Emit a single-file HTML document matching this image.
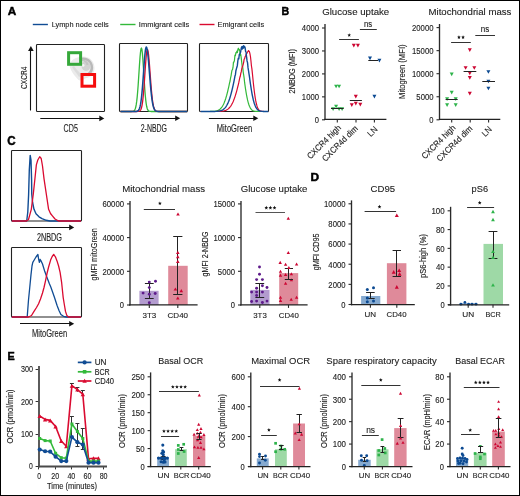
<!DOCTYPE html>
<html><head><meta charset="utf-8"><style>
html,body{margin:0;padding:0;background:#fff;}
svg{display:block;will-change:transform;}
text{font-family:"Liberation Sans", sans-serif;fill:#222;stroke:#222;stroke-width:0.12px;}
</style></head><body>
<svg width="520" height="496" viewBox="0 0 520 496">
<rect x="0.5" y="0.5" width="519" height="495" fill="#fff" stroke="#000" stroke-width="1"/>
<text x="7.8" y="15.3" font-size="11.0" font-weight="bold" textLength="8.5" lengthAdjust="spacingAndGlyphs" style="fill:#000;stroke:#000;stroke-width:0.45px">A</text>
<text x="281.5" y="15.0" font-size="10.8" font-weight="bold" textLength="7.7" lengthAdjust="spacingAndGlyphs" style="fill:#000;stroke:#000;stroke-width:0.45px">B</text>
<text x="7.3" y="145.0" font-size="12.2" font-weight="bold" textLength="8.4" lengthAdjust="spacingAndGlyphs" style="fill:#000;stroke:#000;stroke-width:0.45px">C</text>
<text x="310.5" y="181.0" font-size="10.8" font-weight="bold" textLength="8.6" lengthAdjust="spacingAndGlyphs" style="fill:#000;stroke:#000;stroke-width:0.45px">D</text>
<text x="7.6" y="359.8" font-size="10.8" font-weight="bold" textLength="7.2" lengthAdjust="spacingAndGlyphs" style="fill:#000;stroke:#000;stroke-width:0.45px">E</text>
<line x1="32.80" y1="24.50" x2="47.90" y2="24.50" stroke="#104c94" stroke-width="1.4" />
<text x="51.70" y="27.00" font-size="7.8" textLength="57.10" lengthAdjust="spacingAndGlyphs">Lymph node cells</text>
<line x1="120.20" y1="24.50" x2="135.50" y2="24.50" stroke="#33b93a" stroke-width="1.4" />
<text x="138.80" y="27.00" font-size="7.8" textLength="50.50" lengthAdjust="spacingAndGlyphs">Immigrant cells</text>
<line x1="199.50" y1="24.50" x2="214.50" y2="24.50" stroke="#da0a30" stroke-width="1.4" />
<text x="217.50" y="27.00" font-size="7.8" textLength="46.70" lengthAdjust="spacingAndGlyphs">Emigrant cells</text>
<rect x="36.5" y="44.5" width="68" height="67" fill="none" stroke="#222" stroke-width="1.1" rx="0.8"/>
<defs><filter id="bl" x="-20%" y="-20%" width="140%" height="140%"><feGaussianBlur stdDeviation="0.7"/></filter></defs>
<g filter="url(#bl)"><path d="M69.5,66 C70,60 76,56.5 84,56.5 C91,57 95,63 94.5,69 C94,75 89,77.5 85,78.5 C82.5,80.5 80,81 78.5,80 C75,76.5 71,71.5 69.5,66Z" fill="#ebebeb"/><path d="M72,67 C74,70 77,74 79,77 L82,75 C79,72 76,69 74,66Z" fill="#dcdcdc"/><path d="M80,59.5 C85,57.5 90,60 91.5,65 C92.5,69 91,72.5 88,74.5" fill="none" stroke="#b9b9b9" stroke-width="2.6"/><ellipse cx="86" cy="66" rx="4.5" ry="5" fill="#d2d2d2"/><path d="M81,60 C84,60 87,62 87.5,65" fill="none" stroke="#c4c4c4" stroke-width="2.2"/><circle cx="83.2" cy="65.4" r="1.3" fill="#f6f6f6"/></g>
<rect x="68.6" y="52.7" width="12.0" height="11.6" fill="none" stroke="#35a83a" stroke-width="3.0"/>
<rect x="82.0" y="74.5" width="12.6" height="11.7" fill="none" stroke="#f50d0d" stroke-width="3.0"/>
<line x1="30.50" y1="110.50" x2="30.50" y2="50.00" stroke="#111" stroke-width="1.1" />
<path d="M30.90,46.00L28.10,51.00L33.70,51.00Z" fill="#111"/>
<line x1="40.30" y1="118.50" x2="100.30" y2="118.50" stroke="#111" stroke-width="1.1" />
<path d="M104.30,118.40L99.30,115.60L99.30,121.20Z" fill="#111"/>
<text x="26.70" y="88.90" font-size="9.4" textLength="22.20" lengthAdjust="spacingAndGlyphs" transform="rotate(-90 26.70 88.90)">CXCR4</text>
<text x="63.60" y="131.80" font-size="10.0" textLength="14.30" lengthAdjust="spacingAndGlyphs">CD5</text>
<rect x="119.5" y="43.5" width="68" height="68" fill="none" stroke="#222" stroke-width="1.1" rx="0.8"/>
<polyline points="120.50,111.50 120.98,111.50 121.45,111.50 121.93,111.50 122.41,111.50 122.88,111.50 123.36,111.50 123.83,111.50 124.31,111.50 124.79,111.50 125.26,111.50 125.74,111.50 126.22,111.50 126.69,111.50 127.17,111.50 127.65,111.50 128.12,111.50 128.60,111.50 129.08,111.50 129.55,111.50 130.03,111.50 130.50,111.50 130.98,111.49 131.46,111.48 131.93,111.46 132.41,111.42 132.89,111.35 133.36,111.21 133.84,110.96 134.32,110.53 134.79,109.83 135.27,108.73 135.75,107.07 136.22,104.69 136.70,101.43 137.18,97.14 137.65,91.80 138.13,85.47 138.60,78.39 139.08,70.93 139.56,63.65 140.03,57.15 140.51,52.05 140.99,48.90 141.46,48.02 141.94,49.65 142.42,53.66 142.89,59.59 143.37,66.79 143.84,74.54 144.32,82.18 144.80,89.17 145.27,95.19 145.75,100.06 146.23,103.80 146.70,106.53 147.18,108.42 147.66,109.66 148.13,110.45 148.61,110.93 149.09,111.20 149.56,111.35 150.04,111.43 150.51,111.47 150.99,111.48 151.47,111.49 151.94,111.50 152.42,111.50 152.90,111.50 153.37,111.50 153.85,111.50 154.33,111.50 154.80,111.50 155.28,111.50 155.76,111.50 156.23,111.50 156.71,111.50 157.19,111.50 157.66,111.50 158.14,111.50 158.61,111.50 159.09,111.50 159.57,111.50 160.04,111.50 160.52,111.50 161.00,111.50 161.47,111.50 161.95,111.50 162.43,111.50 162.90,111.50 163.38,111.50 163.85,111.50 164.33,111.50 164.81,111.50 165.28,111.50 165.76,111.50 166.24,111.50 166.71,111.50 167.19,111.50 167.67,111.50 168.14,111.50 168.62,111.50 169.10,111.50 169.57,111.50 170.05,111.50 170.52,111.50 171.00,111.50 171.48,111.50 171.95,111.50 172.43,111.50 172.91,111.50 173.38,111.50 173.86,111.50 174.34,111.50 174.81,111.50 175.29,111.50 175.77,111.50 176.24,111.50 176.72,111.50 177.19,111.50 177.67,111.50 178.15,111.50 178.62,111.50 179.10,111.50 179.58,111.50 180.05,111.50 180.53,111.50 181.01,111.50 181.48,111.50 181.96,111.50 182.44,111.50 182.91,111.50 183.39,111.50 183.86,111.50 184.34,111.50 184.82,111.50 185.29,111.50 185.77,111.50 186.25,111.50 186.72,111.50 187.20,111.50" fill="none" stroke="#33b93a" stroke-width="1.3" stroke-linejoin="round" />
<polyline points="120.50,111.50 120.98,111.50 121.45,111.50 121.93,111.50 122.41,111.50 122.88,111.50 123.36,111.50 123.83,111.50 124.31,111.50 124.79,111.50 125.26,111.50 125.74,111.50 126.22,111.50 126.69,111.50 127.17,111.50 127.65,111.50 128.12,111.50 128.60,111.50 129.08,111.50 129.55,111.50 130.03,111.50 130.50,111.50 130.98,111.50 131.46,111.50 131.93,111.50 132.41,111.50 132.89,111.50 133.36,111.50 133.84,111.50 134.32,111.50 134.79,111.50 135.27,111.50 135.75,111.50 136.22,111.50 136.70,111.49 137.18,111.49 137.65,111.47 138.13,111.44 138.60,111.37 139.08,111.26 139.56,111.05 140.03,110.69 140.51,110.11 140.99,109.19 141.46,107.80 141.94,105.79 142.42,103.00 142.89,99.30 143.37,94.61 143.84,88.94 144.32,82.45 144.80,75.43 145.27,68.31 145.75,61.62 146.23,55.96 146.70,51.86 147.18,49.74 147.66,49.77 148.13,51.66 148.61,55.21 149.09,60.12 149.56,65.98 150.04,72.37 150.51,78.86 150.99,85.07 151.47,90.74 151.94,95.67 152.42,99.79 152.90,103.09 153.37,105.64 153.85,107.54 154.33,108.90 154.80,109.84 155.28,110.48 155.76,110.89 156.23,111.14 156.71,111.30 157.19,111.39 157.66,111.44 158.14,111.47 158.61,111.48 159.09,111.49 159.57,111.50 160.04,111.50 160.52,111.50 161.00,111.50 161.47,111.50 161.95,111.50 162.43,111.50 162.90,111.50 163.38,111.50 163.85,111.50 164.33,111.50 164.81,111.50 165.28,111.50 165.76,111.50 166.24,111.50 166.71,111.50 167.19,111.50 167.67,111.50 168.14,111.50 168.62,111.50 169.10,111.50 169.57,111.50 170.05,111.50 170.52,111.50 171.00,111.50 171.48,111.50 171.95,111.50 172.43,111.50 172.91,111.50 173.38,111.50 173.86,111.50 174.34,111.50 174.81,111.50 175.29,111.50 175.77,111.50 176.24,111.50 176.72,111.50 177.19,111.50 177.67,111.50 178.15,111.50 178.62,111.50 179.10,111.50 179.58,111.50 180.05,111.50 180.53,111.50 181.01,111.50 181.48,111.50 181.96,111.50 182.44,111.50 182.91,111.50 183.39,111.50 183.86,111.50 184.34,111.50 184.82,111.50 185.29,111.50 185.77,111.50 186.25,111.50 186.72,111.50 187.20,111.50" fill="none" stroke="#da0a30" stroke-width="1.3" stroke-linejoin="round" />
<polyline points="120.50,111.50 120.98,111.50 121.45,111.50 121.93,111.50 122.41,111.50 122.88,111.50 123.36,111.50 123.83,111.50 124.31,111.50 124.79,111.50 125.26,111.50 125.74,111.50 126.22,111.50 126.69,111.50 127.17,111.50 127.65,111.50 128.12,111.50 128.60,111.50 129.08,111.50 129.55,111.50 130.03,111.50 130.50,111.50 130.98,111.50 131.46,111.50 131.93,111.50 132.41,111.50 132.89,111.50 133.36,111.50 133.84,111.50 134.32,111.50 134.79,111.49 135.27,111.48 135.75,111.46 136.22,111.42 136.70,111.35 137.18,111.24 137.65,111.04 138.13,110.72 138.60,110.21 139.08,109.44 139.56,108.30 140.03,106.68 140.51,104.46 140.99,101.51 141.46,97.75 141.94,93.13 142.42,87.68 142.89,81.52 143.37,74.90 143.84,68.13 144.32,61.63 144.80,55.85 145.27,51.24 145.75,48.18 146.23,46.92 146.70,47.45 147.18,49.45 147.66,52.80 148.13,57.26 148.61,62.55 149.09,68.36 149.56,74.37 150.04,80.28 150.51,85.87 150.99,90.95 151.47,95.40 151.94,99.19 152.42,102.30 152.90,104.79 153.37,106.72 153.85,108.17 154.33,109.24 154.80,110.00 155.28,110.53 155.76,110.88 156.23,111.12 156.71,111.27 157.19,111.36 157.66,111.42 158.14,111.46 158.61,111.48 159.09,111.49 159.57,111.49 160.04,111.50 160.52,111.50 161.00,111.50 161.47,111.50 161.95,111.50 162.43,111.50 162.90,111.50 163.38,111.50 163.85,111.50 164.33,111.50 164.81,111.50 165.28,111.50 165.76,111.50 166.24,111.50 166.71,111.50 167.19,111.50 167.67,111.50 168.14,111.50 168.62,111.50 169.10,111.50 169.57,111.50 170.05,111.50 170.52,111.50 171.00,111.50 171.48,111.50 171.95,111.50 172.43,111.50 172.91,111.50 173.38,111.50 173.86,111.50 174.34,111.50 174.81,111.50 175.29,111.50 175.77,111.50 176.24,111.50 176.72,111.50 177.19,111.50 177.67,111.50 178.15,111.50 178.62,111.50 179.10,111.50 179.58,111.50 180.05,111.50 180.53,111.50 181.01,111.50 181.48,111.50 181.96,111.50 182.44,111.50 182.91,111.50 183.39,111.50 183.86,111.50 184.34,111.50 184.82,111.50 185.29,111.50 185.77,111.50 186.25,111.50 186.72,111.50 187.20,111.50" fill="none" stroke="#104c94" stroke-width="1.5" stroke-linejoin="round" />
<line x1="130.00" y1="118.50" x2="176.20" y2="118.50" stroke="#111" stroke-width="1.1" />
<path d="M180.20,118.30L175.20,115.50L175.20,121.10Z" fill="#111"/>
<text x="140.70" y="131.80" font-size="10.0" textLength="26.30" lengthAdjust="spacingAndGlyphs">2-NBDG</text>
<rect x="199.5" y="43.5" width="69" height="68" fill="none" stroke="#222" stroke-width="1.1" rx="0.8"/>
<polyline points="200.50,111.50 200.99,111.50 201.47,111.50 201.96,111.50 202.44,111.50 202.93,111.50 203.41,111.50 203.90,111.50 204.38,111.50 204.87,111.50 205.35,111.50 205.84,111.50 206.32,111.50 206.81,111.50 207.29,111.49 207.78,111.49 208.26,111.49 208.75,111.49 209.23,111.48 209.72,111.48 210.20,111.47 210.69,111.46 211.17,111.45 211.66,111.43 212.14,111.41 212.62,111.39 213.11,111.36 213.59,111.33 214.08,111.28 214.56,111.23 215.05,111.16 215.53,111.08 216.02,110.99 216.50,110.87 216.99,110.73 217.47,110.57 217.96,110.37 218.44,110.14 218.93,109.87 219.41,109.55 219.90,109.19 220.38,108.77 220.87,108.28 221.35,107.72 221.84,107.09 222.32,106.38 222.81,105.57 223.29,104.67 223.78,103.67 224.26,102.56 224.75,101.33 225.23,99.99 225.72,98.53 226.20,96.95 226.69,95.25 227.17,93.43 227.66,91.49 228.14,89.45 228.63,87.30 229.11,85.06 229.60,82.74 230.08,81.01 230.57,77.80 231.06,75.82 231.54,72.65 232.02,70.09 232.51,69.58 233.00,67.48 233.48,62.11 233.96,62.19 234.45,60.29 234.94,55.13 235.42,55.70 235.90,52.51 236.39,52.87 236.88,51.03 237.36,52.58 237.84,49.67 238.33,48.23 238.81,49.95 239.30,49.45 239.78,50.95 240.27,55.49 240.75,54.52 241.24,57.92 241.72,62.12 242.21,66.38 242.69,66.86 243.18,71.85 243.66,74.82 244.15,78.14 244.63,82.69 245.12,86.12 245.60,89.36 246.09,92.38 246.57,95.14 247.06,97.65 247.54,99.88 248.03,101.85 248.51,103.56 249.00,105.03 249.48,106.28 249.97,107.33 250.45,108.21 250.94,108.92 251.42,109.50 251.91,109.96 252.39,110.33 252.88,110.62 253.36,110.84 253.85,111.02 254.33,111.15 254.82,111.24 255.30,111.32 255.79,111.37 256.27,111.41 256.76,111.44 257.25,111.46 257.73,111.47 258.21,111.48 258.70,111.49 259.19,111.49 259.67,111.49 260.15,111.50 260.64,111.50 261.12,111.50 261.61,111.50 262.09,111.50 262.58,111.50 263.06,111.50 263.55,111.50 264.03,111.50 264.52,111.50 265.00,111.50 265.49,111.50 265.97,111.50 266.46,111.50 266.94,111.50 267.43,111.50 267.91,111.50 268.40,111.50" fill="none" stroke="#33b93a" stroke-width="1.2" stroke-linejoin="round" />
<polyline points="200.50,111.50 200.99,111.50 201.47,111.50 201.96,111.50 202.44,111.50 202.93,111.50 203.41,111.50 203.90,111.50 204.38,111.50 204.87,111.50 205.35,111.50 205.84,111.50 206.32,111.50 206.81,111.50 207.29,111.50 207.78,111.50 208.26,111.50 208.75,111.50 209.23,111.50 209.72,111.50 210.20,111.50 210.69,111.50 211.17,111.50 211.66,111.50 212.14,111.50 212.62,111.50 213.11,111.50 213.59,111.49 214.08,111.49 214.56,111.49 215.05,111.49 215.53,111.48 216.02,111.48 216.50,111.47 216.99,111.47 217.47,111.46 217.96,111.45 218.44,111.43 218.93,111.42 219.41,111.40 219.90,111.37 220.38,111.35 220.87,111.31 221.35,111.27 221.84,111.22 222.32,111.16 222.81,111.09 223.29,111.01 223.78,110.91 224.26,110.79 224.75,110.66 225.23,110.50 225.72,110.32 226.20,110.11 226.69,109.86 227.17,109.59 227.66,109.27 228.14,108.91 228.63,108.50 229.11,108.04 229.60,107.52 230.08,106.94 230.57,106.29 231.06,105.58 231.54,104.78 232.02,103.91 232.51,102.96 233.00,101.91 233.48,100.78 233.96,99.56 234.45,98.25 234.94,96.84 235.42,95.33 235.90,93.74 236.39,92.06 236.88,90.29 237.36,88.44 237.84,86.52 238.33,84.53 238.81,82.49 239.30,80.13 239.78,77.71 240.27,76.28 240.75,73.53 241.24,71.92 241.72,68.99 242.21,66.97 242.69,66.35 243.18,64.36 243.66,62.37 244.15,59.10 244.63,58.57 245.12,56.68 245.60,56.07 246.09,54.45 246.57,53.75 247.06,53.04 247.54,51.89 248.03,51.50 248.51,50.55 249.00,51.25 249.48,51.76 249.97,53.95 250.45,56.51 250.94,60.72 251.42,65.73 251.91,68.90 252.39,73.41 252.88,78.21 253.36,83.26 253.85,87.55 254.33,91.52 254.82,95.10 255.30,98.25 255.79,100.97 256.27,103.27 256.76,105.17 257.25,106.71 257.73,107.94 258.21,108.89 258.70,109.62 259.19,110.17 259.67,110.57 260.15,110.86 260.64,111.07 261.12,111.21 261.61,111.31 262.09,111.38 262.58,111.42 263.06,111.45 263.55,111.47 264.03,111.48 264.52,111.49 265.00,111.49 265.49,111.50 265.97,111.50 266.46,111.50 266.94,111.50 267.43,111.50 267.91,111.50 268.40,111.50" fill="none" stroke="#da0a30" stroke-width="1.2" stroke-linejoin="round" />
<polyline points="200.50,111.50 200.99,111.50 201.47,111.50 201.96,111.50 202.44,111.50 202.93,111.50 203.41,111.50 203.90,111.50 204.38,111.50 204.87,111.50 205.35,111.50 205.84,111.50 206.32,111.50 206.81,111.50 207.29,111.50 207.78,111.50 208.26,111.50 208.75,111.50 209.23,111.50 209.72,111.50 210.20,111.49 210.69,111.49 211.17,111.49 211.66,111.49 212.14,111.48 212.62,111.48 213.11,111.47 213.59,111.47 214.08,111.46 214.56,111.44 215.05,111.43 215.53,111.41 216.02,111.39 216.50,111.36 216.99,111.33 217.47,111.29 217.96,111.23 218.44,111.17 218.93,111.10 219.41,111.01 219.90,110.91 220.38,110.78 220.87,110.63 221.35,110.46 221.84,110.26 222.32,110.02 222.81,109.74 223.29,109.42 223.78,109.05 224.26,108.63 224.75,108.15 225.23,107.60 225.72,106.98 226.20,106.28 226.69,105.50 227.17,104.63 227.66,103.67 228.14,102.60 228.63,101.43 229.11,100.15 229.60,98.76 230.08,97.25 230.57,95.63 231.06,93.89 231.54,92.05 232.02,90.09 232.51,88.03 233.00,85.87 233.48,83.63 233.96,81.30 234.45,78.79 234.94,76.04 235.42,74.67 235.90,70.74 236.39,68.87 236.88,67.19 237.36,65.44 237.84,60.81 238.33,58.09 238.81,58.82 239.30,54.47 239.78,53.95 240.27,53.22 240.75,51.26 241.24,48.24 241.72,46.79 242.21,49.16 242.69,46.41 243.18,48.33 243.66,45.68 244.15,47.64 244.63,46.52 245.12,47.68 245.60,51.41 246.09,52.09 246.57,57.20 247.06,60.94 247.54,62.63 248.03,67.66 248.51,70.71 249.00,73.77 249.48,76.92 249.97,80.65 250.45,84.02 250.94,87.23 251.42,90.25 251.91,93.04 252.39,95.60 252.88,97.92 253.36,100.00 253.85,101.84 254.33,103.46 254.82,104.86 255.30,106.06 255.79,107.08 256.27,107.94 256.76,108.66 257.25,109.25 257.73,109.73 258.21,110.12 258.70,110.44 259.19,110.69 259.67,110.88 260.15,111.03 260.64,111.15 261.12,111.24 261.61,111.31 262.09,111.36 262.58,111.40 263.06,111.43 263.55,111.45 264.03,111.46 264.52,111.48 265.00,111.48 265.49,111.49 265.97,111.49 266.46,111.49 266.94,111.50 267.43,111.50 267.91,111.50 268.40,111.50" fill="none" stroke="#104c94" stroke-width="1.4" stroke-linejoin="round" />
<line x1="208.90" y1="118.50" x2="254.30" y2="118.50" stroke="#111" stroke-width="1.1" />
<path d="M258.30,118.30L253.30,115.50L253.30,121.10Z" fill="#111"/>
<text x="216.80" y="131.80" font-size="10.0" textLength="35.30" lengthAdjust="spacingAndGlyphs">MitoGreen</text>
<text x="322.20" y="15.10" font-size="9.9" textLength="67.00" lengthAdjust="spacingAndGlyphs">Glucose uptake</text>
<line x1="325.00" y1="24.00" x2="325.00" y2="120.00" stroke="#2a2a2a" stroke-width="1.35" />
<line x1="322.00" y1="119.80" x2="325.00" y2="119.80" stroke="#2a2a2a" stroke-width="1.1" />
<text x="319.00" y="123.13" font-size="8.3" text-anchor="end" textLength="4.20" lengthAdjust="spacingAndGlyphs">0</text>
<line x1="322.00" y1="96.85" x2="325.00" y2="96.85" stroke="#2a2a2a" stroke-width="1.1" />
<text x="319.00" y="100.18" font-size="8.3" text-anchor="end" textLength="17.14" lengthAdjust="spacingAndGlyphs">1000</text>
<line x1="322.00" y1="73.90" x2="325.00" y2="73.90" stroke="#2a2a2a" stroke-width="1.1" />
<text x="319.00" y="77.23" font-size="8.3" text-anchor="end" textLength="17.14" lengthAdjust="spacingAndGlyphs">2000</text>
<line x1="322.00" y1="50.95" x2="325.00" y2="50.95" stroke="#2a2a2a" stroke-width="1.1" />
<text x="319.00" y="54.28" font-size="8.3" text-anchor="end" textLength="17.14" lengthAdjust="spacingAndGlyphs">3000</text>
<line x1="322.00" y1="28.00" x2="325.00" y2="28.00" stroke="#2a2a2a" stroke-width="1.1" />
<text x="319.00" y="31.33" font-size="8.3" text-anchor="end" textLength="17.14" lengthAdjust="spacingAndGlyphs">4000</text>
<line x1="324.20" y1="119.40" x2="386.40" y2="119.40" stroke="#222" stroke-width="1.3" />
<line x1="337.30" y1="119.40" x2="337.30" y2="122.40" stroke="#2a2a2a" stroke-width="1.1" />
<line x1="356.00" y1="119.40" x2="356.00" y2="122.40" stroke="#2a2a2a" stroke-width="1.1" />
<line x1="374.40" y1="119.40" x2="374.40" y2="122.40" stroke="#2a2a2a" stroke-width="1.1" />
<text x="294.70" y="93.40" font-size="8.6" textLength="44.40" lengthAdjust="spacingAndGlyphs" transform="rotate(-90 294.70 93.40)">2NBDG (MFI)</text>
<path d="M334.10,84.66H338.10L336.10,88.34Z" fill="#2db34a"/>
<path d="M337.10,84.66H341.10L339.10,88.34Z" fill="#2db34a"/>
<path d="M331.10,107.26H335.10L333.10,110.94Z" fill="#2db34a"/>
<path d="M334.10,104.86H338.10L336.10,108.54Z" fill="#2db34a"/>
<path d="M337.10,107.26H341.10L339.10,110.94Z" fill="#2db34a"/>
<path d="M340.10,107.26H344.10L342.10,110.94Z" fill="#2db34a"/>
<line x1="331.00" y1="108.50" x2="343.70" y2="108.50" stroke="#222" stroke-width="1.0" />
<path d="M351.80,43.76H355.80L353.80,47.44Z" fill="#cc0632"/>
<path d="M355.90,43.76H359.90L357.90,47.44Z" fill="#cc0632"/>
<path d="M353.80,94.76H357.80L355.80,98.44Z" fill="#cc0632"/>
<path d="M349.80,103.26H353.80L351.80,106.94Z" fill="#cc0632"/>
<path d="M353.80,101.86H357.80L355.80,105.54Z" fill="#cc0632"/>
<path d="M358.30,102.86H362.30L360.30,106.54Z" fill="#cc0632"/>
<line x1="349.80" y1="100.50" x2="361.90" y2="100.50" stroke="#222" stroke-width="1.0" />
<path d="M368.00,56.46H372.00L370.00,60.14Z" fill="#0c4a92"/>
<path d="M377.40,58.86H381.40L379.40,62.54Z" fill="#0c4a92"/>
<path d="M372.40,94.76H376.40L374.40,98.44Z" fill="#0c4a92"/>
<line x1="368.30" y1="60.50" x2="378.00" y2="60.50" stroke="#222" stroke-width="1.0" />
<line x1="339.10" y1="39.50" x2="358.90" y2="39.50" stroke="#333" stroke-width="1.0" />
<polygon points="349.20,33.15 349.72,34.39 351.05,34.50 350.03,35.37 350.35,36.68 349.20,35.98 348.05,36.68 348.37,35.37 347.35,34.50 348.68,34.39" fill="#111"/>
<line x1="359.90" y1="29.50" x2="376.80" y2="29.50" stroke="#333" stroke-width="1.0" />
<text x="368.00" y="27.20" font-size="8.4" text-anchor="middle" textLength="8.20" lengthAdjust="spacingAndGlyphs">ns</text>
<text x="341.60" y="128.40" font-size="8.6" text-anchor="end" textLength="44.00" lengthAdjust="spacingAndGlyphs" transform="rotate(-45 341.60 128.40)">CXCR4 high</text>
<text x="358.40" y="129.00" font-size="8.6" text-anchor="end" textLength="46.60" lengthAdjust="spacingAndGlyphs" transform="rotate(-45 358.40 129.00)">CXCR4d dim</text>
<text x="378.20" y="129.80" font-size="8.6" text-anchor="end" textLength="10.40" lengthAdjust="spacingAndGlyphs" transform="rotate(-45 378.20 129.80)">LN</text>
<text x="428.50" y="15.00" font-size="9.9" textLength="82.90" lengthAdjust="spacingAndGlyphs">Mitochondrial mass</text>
<line x1="439.50" y1="24.00" x2="439.50" y2="120.00" stroke="#2a2a2a" stroke-width="1.35" />
<line x1="436.50" y1="119.80" x2="439.50" y2="119.80" stroke="#2a2a2a" stroke-width="1.1" />
<text x="433.50" y="123.13" font-size="8.3" text-anchor="end" textLength="4.20" lengthAdjust="spacingAndGlyphs">0</text>
<line x1="436.50" y1="96.75" x2="439.50" y2="96.75" stroke="#2a2a2a" stroke-width="1.1" />
<text x="433.50" y="100.08" font-size="8.3" text-anchor="end" textLength="17.14" lengthAdjust="spacingAndGlyphs">5000</text>
<line x1="436.50" y1="73.70" x2="439.50" y2="73.70" stroke="#2a2a2a" stroke-width="1.1" />
<text x="433.50" y="77.03" font-size="8.3" text-anchor="end" textLength="21.50" lengthAdjust="spacingAndGlyphs">10000</text>
<line x1="436.50" y1="50.65" x2="439.50" y2="50.65" stroke="#2a2a2a" stroke-width="1.1" />
<text x="433.50" y="53.98" font-size="8.3" text-anchor="end" textLength="21.50" lengthAdjust="spacingAndGlyphs">15000</text>
<line x1="436.50" y1="27.60" x2="439.50" y2="27.60" stroke="#2a2a2a" stroke-width="1.1" />
<text x="433.50" y="30.93" font-size="8.3" text-anchor="end" textLength="21.50" lengthAdjust="spacingAndGlyphs">20000</text>
<line x1="439.00" y1="119.40" x2="500.30" y2="119.40" stroke="#222" stroke-width="1.3" />
<line x1="451.70" y1="119.40" x2="451.70" y2="122.40" stroke="#2a2a2a" stroke-width="1.1" />
<line x1="470.20" y1="119.40" x2="470.20" y2="122.40" stroke="#2a2a2a" stroke-width="1.1" />
<line x1="488.60" y1="119.40" x2="488.60" y2="122.40" stroke="#2a2a2a" stroke-width="1.1" />
<text x="405.00" y="98.90" font-size="8.6" textLength="54.50" lengthAdjust="spacingAndGlyphs" transform="rotate(-90 405.00 98.90)">Mitogreen (MFI)</text>
<path d="M449.70,72.56H453.70L451.70,76.24Z" fill="#2db34a"/>
<path d="M449.70,90.76H453.70L451.70,94.44Z" fill="#2db34a"/>
<path d="M445.10,97.36H449.10L447.10,101.04Z" fill="#2db34a"/>
<path d="M453.70,97.36H457.70L455.70,101.04Z" fill="#2db34a"/>
<path d="M445.10,103.26H449.10L447.10,106.94Z" fill="#2db34a"/>
<path d="M453.70,103.26H457.70L455.70,106.94Z" fill="#2db34a"/>
<line x1="445.60" y1="99.50" x2="457.70" y2="99.50" stroke="#222" stroke-width="1.0" />
<path d="M467.80,48.36H471.80L469.80,52.04Z" fill="#cc0632"/>
<path d="M463.60,66.16H467.60L465.60,69.84Z" fill="#cc0632"/>
<path d="M472.30,66.16H476.30L474.30,69.84Z" fill="#cc0632"/>
<path d="M467.80,71.56H471.80L469.80,75.24Z" fill="#cc0632"/>
<path d="M467.80,75.96H471.80L469.80,79.64Z" fill="#cc0632"/>
<path d="M467.80,91.76H471.80L469.80,95.44Z" fill="#cc0632"/>
<line x1="463.60" y1="71.50" x2="476.30" y2="71.50" stroke="#222" stroke-width="1.0" />
<path d="M486.40,70.16H490.40L488.40,73.84Z" fill="#0c4a92"/>
<path d="M486.40,79.66H490.40L488.40,83.34Z" fill="#0c4a92"/>
<path d="M486.40,86.66H490.40L488.40,90.34Z" fill="#0c4a92"/>
<line x1="482.30" y1="81.50" x2="495.00" y2="81.50" stroke="#222" stroke-width="1.0" />
<line x1="451.10" y1="42.50" x2="470.80" y2="42.50" stroke="#333" stroke-width="1.0" />
<polygon points="458.95,35.35 459.47,36.59 460.80,36.70 459.78,37.57 460.10,38.88 458.95,38.18 457.80,38.88 458.12,37.57 457.10,36.70 458.43,36.59" fill="#111"/>
<polygon points="463.05,35.35 463.57,36.59 464.90,36.70 463.88,37.57 464.20,38.88 463.05,38.18 461.90,38.88 462.22,37.57 461.20,36.70 462.53,36.59" fill="#111"/>
<line x1="475.30" y1="35.50" x2="495.00" y2="35.50" stroke="#333" stroke-width="1.0" />
<text x="485.10" y="32.20" font-size="8.4" text-anchor="middle" textLength="8.50" lengthAdjust="spacingAndGlyphs">ns</text>
<text x="456.00" y="128.40" font-size="8.6" text-anchor="end" textLength="44.00" lengthAdjust="spacingAndGlyphs" transform="rotate(-45 456.00 128.40)">CXCR4 high</text>
<text x="473.00" y="129.00" font-size="8.6" text-anchor="end" textLength="46.60" lengthAdjust="spacingAndGlyphs" transform="rotate(-45 473.00 129.00)">CXCR4d dim</text>
<text x="492.50" y="129.80" font-size="8.6" text-anchor="end" textLength="10.40" lengthAdjust="spacingAndGlyphs" transform="rotate(-45 492.50 129.80)">LN</text>
<rect x="11.5" y="150.5" width="70" height="70.5" fill="none" stroke="#222" stroke-width="1.1" rx="0.8"/>
<polyline points="11.80,221.00 26.70,221.00 27.80,212.00 28.60,195.00 29.30,170.00 30.20,155.40 31.00,160.00 31.60,180.00 31.75,194.00 32.60,202.50 34.00,209.30 36.00,213.80 39.00,216.80 42.00,218.60 46.30,220.30 50.00,221.00 81.00,221.00" fill="none" stroke="#104c94" stroke-width="1.4" stroke-linejoin="round" />
<polyline points="11.80,221.00 26.40,221.00 28.50,219.50 31.30,209.30 33.30,194.00 35.00,178.00 36.35,164.90 37.80,160.00 39.70,156.70 41.20,158.50 42.50,166.00 44.00,178.60 46.30,194.00 48.60,209.30 50.50,213.50 52.40,215.80 55.00,219.00 58.60,221.00 81.00,221.00" fill="none" stroke="#da0a30" stroke-width="1.3" stroke-linejoin="round" />
<line x1="20.00" y1="227.50" x2="70.20" y2="227.50" stroke="#111" stroke-width="1.1" />
<path d="M74.20,227.40L69.20,224.60L69.20,230.20Z" fill="#111"/>
<text x="36.90" y="240.70" font-size="10.0" textLength="25.10" lengthAdjust="spacingAndGlyphs">2NBDG</text>
<rect x="11.5" y="247.5" width="70" height="69.5" fill="none" stroke="#222" stroke-width="1.1" rx="0.8"/>
<polyline points="11.80,317.00 27.20,317.00 28.50,300.00 29.50,290.00 31.00,274.60 32.00,266.00 32.80,262.40 34.50,259.50 36.00,257.00 37.90,254.40 38.60,259.00 39.40,262.40 40.20,259.50 41.00,260.90 42.50,264.00 44.80,271.60 47.00,277.50 49.40,283.80 50.80,287.00 52.40,291.50 54.50,297.50 57.00,305.30 59.00,310.50 60.90,314.50 63.50,316.30 66.20,317.00 81.00,317.00" fill="none" stroke="#104c94" stroke-width="1.3" stroke-linejoin="round" />
<polyline points="11.80,317.00 28.70,317.00 31.50,315.50 34.00,311.40 36.50,307.50 38.60,303.80 40.50,299.00 42.50,293.00 44.00,287.50 45.50,280.80 47.00,273.50 48.60,267.00 50.60,260.10 52.20,256.50 53.70,254.40 55.40,256.80 57.00,260.90 58.60,266.00 60.10,272.30 61.60,282.30 62.40,290.00 63.20,297.60 64.40,305.00 65.50,311.40 66.80,315.40 68.50,317.00 81.00,317.00" fill="none" stroke="#da0a30" stroke-width="1.3" stroke-linejoin="round" />
<line x1="20.00" y1="323.50" x2="70.20" y2="323.50" stroke="#111" stroke-width="1.1" />
<path d="M74.20,323.80L69.20,321.00L69.20,326.60Z" fill="#111"/>
<text x="32.00" y="336.70" font-size="10.0" textLength="35.10" lengthAdjust="spacingAndGlyphs">MitoGreen</text>
<text x="122.20" y="191.50" font-size="9.9" textLength="82.90" lengthAdjust="spacingAndGlyphs">Mitochondrial mass</text>
<line x1="130.00" y1="201.00" x2="130.00" y2="305.50" stroke="#2a2a2a" stroke-width="1.35" />
<line x1="127.00" y1="305.00" x2="130.00" y2="305.00" stroke="#2a2a2a" stroke-width="1.1" />
<text x="124.00" y="308.33" font-size="8.3" text-anchor="end" textLength="4.20" lengthAdjust="spacingAndGlyphs">0</text>
<line x1="127.00" y1="271.30" x2="130.00" y2="271.30" stroke="#2a2a2a" stroke-width="1.1" />
<text x="124.00" y="274.63" font-size="8.3" text-anchor="end" textLength="21.50" lengthAdjust="spacingAndGlyphs">20000</text>
<line x1="127.00" y1="237.60" x2="130.00" y2="237.60" stroke="#2a2a2a" stroke-width="1.1" />
<text x="124.00" y="240.93" font-size="8.3" text-anchor="end" textLength="21.50" lengthAdjust="spacingAndGlyphs">40000</text>
<line x1="127.00" y1="203.90" x2="130.00" y2="203.90" stroke="#2a2a2a" stroke-width="1.1" />
<text x="124.00" y="207.23" font-size="8.3" text-anchor="end" textLength="21.50" lengthAdjust="spacingAndGlyphs">60000</text>
<text x="97.00" y="280.50" font-size="8.6" textLength="52.40" lengthAdjust="spacingAndGlyphs" transform="rotate(-90 97.00 280.50)">gMFI mitoGreen</text>
<rect x="139.40" y="290.80" width="19.20" height="14.20" fill="#b39ccf" />
<rect x="168.20" y="265.80" width="19.50" height="39.20" fill="#df8a9a" />
<line x1="149.50" y1="283.20" x2="149.50" y2="298.30" stroke="#222" stroke-width="1.0" />
<line x1="144.90" y1="283.50" x2="153.70" y2="283.50" stroke="#222" stroke-width="1.0" />
<line x1="144.90" y1="298.50" x2="153.70" y2="298.50" stroke="#222" stroke-width="1.0" />
<circle cx="149.30" cy="282.10" r="1.45" fill="#5e1a8a"/>
<circle cx="155.50" cy="281.20" r="1.45" fill="#5e1a8a"/>
<circle cx="149.30" cy="287.60" r="1.45" fill="#5e1a8a"/>
<circle cx="143.10" cy="293.10" r="1.45" fill="#5e1a8a"/>
<circle cx="149.30" cy="294.20" r="1.45" fill="#5e1a8a"/>
<circle cx="155.20" cy="293.50" r="1.45" fill="#5e1a8a"/>
<circle cx="149.30" cy="302.80" r="1.45" fill="#5e1a8a"/>
<line x1="177.50" y1="236.30" x2="177.50" y2="294.50" stroke="#222" stroke-width="1.0" />
<line x1="173.20" y1="236.50" x2="182.40" y2="236.50" stroke="#222" stroke-width="1.0" />
<line x1="173.20" y1="294.50" x2="182.40" y2="294.50" stroke="#222" stroke-width="1.0" />
<path d="M176.20,215.62H179.80L178.00,212.38Z" fill="#cc0632"/>
<path d="M176.00,253.92H179.60L177.80,250.68Z" fill="#cc0632"/>
<path d="M176.00,258.32H179.60L177.80,255.08Z" fill="#cc0632"/>
<path d="M176.00,262.92H179.60L177.80,259.68Z" fill="#cc0632"/>
<path d="M173.60,290.62H177.20L175.40,287.38Z" fill="#cc0632"/>
<path d="M179.50,292.22H183.10L181.30,288.98Z" fill="#cc0632"/>
<path d="M176.00,299.62H179.60L177.80,296.38Z" fill="#cc0632"/>
<line x1="129.00" y1="304.90" x2="197.60" y2="304.90" stroke="#222" stroke-width="1.3" />
<line x1="149.30" y1="304.90" x2="149.30" y2="307.90" stroke="#2a2a2a" stroke-width="1.1" />
<line x1="177.80" y1="304.90" x2="177.80" y2="307.90" stroke="#2a2a2a" stroke-width="1.1" />
<line x1="143.80" y1="209.50" x2="175.00" y2="209.50" stroke="#333" stroke-width="1.0" />
<polygon points="159.90,201.45 160.42,202.69 161.75,202.80 160.73,203.67 161.05,204.98 159.90,204.28 158.75,204.98 159.07,203.67 158.05,202.80 159.38,202.69" fill="#111"/>
<text x="149.40" y="318.00" font-size="8.0" text-anchor="middle" textLength="13.80" lengthAdjust="spacingAndGlyphs">3T3</text>
<text x="177.80" y="318.00" font-size="8.0" text-anchor="middle" textLength="20.50" lengthAdjust="spacingAndGlyphs">CD40</text>
<text x="240.70" y="191.60" font-size="9.9" textLength="66.70" lengthAdjust="spacingAndGlyphs">Glucose uptake</text>
<line x1="241.00" y1="201.00" x2="241.00" y2="305.50" stroke="#2a2a2a" stroke-width="1.35" />
<line x1="238.00" y1="305.00" x2="241.00" y2="305.00" stroke="#2a2a2a" stroke-width="1.1" />
<text x="235.00" y="308.33" font-size="8.3" text-anchor="end" textLength="4.20" lengthAdjust="spacingAndGlyphs">0</text>
<line x1="238.00" y1="271.30" x2="241.00" y2="271.30" stroke="#2a2a2a" stroke-width="1.1" />
<text x="235.00" y="274.63" font-size="8.3" text-anchor="end" textLength="17.14" lengthAdjust="spacingAndGlyphs">5000</text>
<line x1="238.00" y1="237.60" x2="241.00" y2="237.60" stroke="#2a2a2a" stroke-width="1.1" />
<text x="235.00" y="240.93" font-size="8.3" text-anchor="end" textLength="21.50" lengthAdjust="spacingAndGlyphs">10000</text>
<line x1="238.00" y1="203.90" x2="241.00" y2="203.90" stroke="#2a2a2a" stroke-width="1.1" />
<text x="235.00" y="207.23" font-size="8.3" text-anchor="end" textLength="21.50" lengthAdjust="spacingAndGlyphs">15000</text>
<text x="208.10" y="276.40" font-size="8.6" textLength="44.90" lengthAdjust="spacingAndGlyphs" transform="rotate(-90 208.10 276.40)">gMFI 2-NBDG</text>
<rect x="250.30" y="289.90" width="19.20" height="15.10" fill="#b39ccf" />
<rect x="279.20" y="273.10" width="19.00" height="31.90" fill="#df8a9a" />
<circle cx="259.50" cy="267.00" r="1.45" fill="#5e1a8a"/>
<circle cx="259.50" cy="274.30" r="1.45" fill="#5e1a8a"/>
<circle cx="256.60" cy="279.60" r="1.45" fill="#5e1a8a"/>
<circle cx="262.40" cy="279.60" r="1.45" fill="#5e1a8a"/>
<circle cx="262.40" cy="285.80" r="1.45" fill="#5e1a8a"/>
<circle cx="267.00" cy="287.50" r="1.45" fill="#5e1a8a"/>
<circle cx="256.60" cy="288.20" r="1.45" fill="#5e1a8a"/>
<circle cx="251.60" cy="292.10" r="1.45" fill="#5e1a8a"/>
<circle cx="256.60" cy="292.10" r="1.45" fill="#5e1a8a"/>
<circle cx="262.40" cy="292.10" r="1.45" fill="#5e1a8a"/>
<circle cx="256.60" cy="295.50" r="1.45" fill="#5e1a8a"/>
<circle cx="251.60" cy="301.50" r="1.45" fill="#5e1a8a"/>
<circle cx="256.60" cy="301.10" r="1.45" fill="#5e1a8a"/>
<circle cx="262.40" cy="302.50" r="1.45" fill="#5e1a8a"/>
<circle cx="267.00" cy="301.10" r="1.45" fill="#5e1a8a"/>
<line x1="259.50" y1="283.20" x2="259.50" y2="297.90" stroke="#222" stroke-width="1.0" />
<line x1="255.40" y1="283.50" x2="264.20" y2="283.50" stroke="#222" stroke-width="1.0" />
<line x1="255.40" y1="297.50" x2="264.20" y2="297.50" stroke="#222" stroke-width="1.0" />
<path d="M286.60,219.83H290.00L288.30,216.77Z" fill="#cc0632"/>
<path d="M286.60,254.03H290.00L288.30,250.97Z" fill="#cc0632"/>
<path d="M278.50,263.93H281.90L280.20,260.87Z" fill="#cc0632"/>
<path d="M283.90,265.83H287.30L285.60,262.77Z" fill="#cc0632"/>
<path d="M294.90,265.53H298.30L296.60,262.47Z" fill="#cc0632"/>
<path d="M278.80,272.83H282.20L280.50,269.77Z" fill="#cc0632"/>
<path d="M278.80,276.63H282.20L280.50,273.57Z" fill="#cc0632"/>
<path d="M283.90,276.03H287.30L285.60,272.97Z" fill="#cc0632"/>
<path d="M289.70,275.33H293.10L291.40,272.27Z" fill="#cc0632"/>
<path d="M289.70,281.23H293.10L291.40,278.17Z" fill="#cc0632"/>
<path d="M283.90,284.73H287.30L285.60,281.67Z" fill="#cc0632"/>
<path d="M278.80,298.73H282.20L280.50,295.67Z" fill="#cc0632"/>
<path d="M278.80,301.93H282.20L280.50,298.87Z" fill="#cc0632"/>
<path d="M289.50,300.83H292.90L291.20,297.77Z" fill="#cc0632"/>
<path d="M294.90,298.73H298.30L296.60,295.67Z" fill="#cc0632"/>
<line x1="288.50" y1="268.30" x2="288.50" y2="279.20" stroke="#222" stroke-width="1.0" />
<line x1="284.80" y1="268.50" x2="293.00" y2="268.50" stroke="#222" stroke-width="1.0" />
<line x1="284.80" y1="279.50" x2="293.00" y2="279.50" stroke="#222" stroke-width="1.0" />
<path d="M287.20,269.03H290.60L288.90,265.97Z" fill="#cc0632"/>
<line x1="240.20" y1="304.90" x2="307.60" y2="304.90" stroke="#222" stroke-width="1.3" />
<line x1="259.80" y1="304.90" x2="259.80" y2="307.90" stroke="#2a2a2a" stroke-width="1.1" />
<line x1="288.50" y1="304.90" x2="288.50" y2="307.90" stroke="#2a2a2a" stroke-width="1.1" />
<line x1="255.50" y1="212.50" x2="285.00" y2="212.50" stroke="#555" stroke-width="1.0" />
<polygon points="266.30,205.85 266.82,207.09 268.15,207.20 267.13,208.07 267.45,209.38 266.30,208.68 265.15,209.38 265.47,208.07 264.45,207.20 265.78,207.09" fill="#111"/>
<polygon points="270.40,205.85 270.92,207.09 272.25,207.20 271.23,208.07 271.55,209.38 270.40,208.68 269.25,209.38 269.57,208.07 268.55,207.20 269.88,207.09" fill="#111"/>
<polygon points="274.50,205.85 275.02,207.09 276.35,207.20 275.33,208.07 275.65,209.38 274.50,208.68 273.35,209.38 273.67,208.07 272.65,207.20 273.98,207.09" fill="#111"/>
<text x="260.00" y="318.00" font-size="8.0" text-anchor="middle" textLength="13.50" lengthAdjust="spacingAndGlyphs">3T3</text>
<text x="288.80" y="318.00" font-size="8.0" text-anchor="middle" textLength="20.00" lengthAdjust="spacingAndGlyphs">CD40</text>
<text x="370.60" y="191.80" font-size="9.9" textLength="24.50" lengthAdjust="spacingAndGlyphs">CD95</text>
<line x1="351.50" y1="200.40" x2="351.50" y2="305.30" stroke="#2a2a2a" stroke-width="1.35" />
<line x1="348.50" y1="304.50" x2="351.50" y2="304.50" stroke="#2a2a2a" stroke-width="1.1" />
<text x="345.50" y="307.83" font-size="8.3" text-anchor="end" textLength="4.20" lengthAdjust="spacingAndGlyphs">0</text>
<line x1="348.50" y1="284.36" x2="351.50" y2="284.36" stroke="#2a2a2a" stroke-width="1.1" />
<text x="345.50" y="287.69" font-size="8.3" text-anchor="end" textLength="17.14" lengthAdjust="spacingAndGlyphs">2000</text>
<line x1="348.50" y1="264.22" x2="351.50" y2="264.22" stroke="#2a2a2a" stroke-width="1.1" />
<text x="345.50" y="267.55" font-size="8.3" text-anchor="end" textLength="17.14" lengthAdjust="spacingAndGlyphs">4000</text>
<line x1="348.50" y1="244.08" x2="351.50" y2="244.08" stroke="#2a2a2a" stroke-width="1.1" />
<text x="345.50" y="247.41" font-size="8.3" text-anchor="end" textLength="17.14" lengthAdjust="spacingAndGlyphs">6000</text>
<line x1="348.50" y1="223.94" x2="351.50" y2="223.94" stroke="#2a2a2a" stroke-width="1.1" />
<text x="345.50" y="227.27" font-size="8.3" text-anchor="end" textLength="17.14" lengthAdjust="spacingAndGlyphs">8000</text>
<line x1="348.50" y1="203.80" x2="351.50" y2="203.80" stroke="#2a2a2a" stroke-width="1.1" />
<text x="345.50" y="207.13" font-size="8.3" text-anchor="end" textLength="21.50" lengthAdjust="spacingAndGlyphs">10000</text>
<text x="319.40" y="270.20" font-size="8.6" textLength="36.60" lengthAdjust="spacingAndGlyphs" transform="rotate(-90 319.40 270.20)">gMFI CD95</text>
<rect x="361.10" y="296.00" width="19.20" height="8.50" fill="#86aad0" />
<rect x="386.90" y="263.20" width="19.50" height="41.30" fill="#df8a9a" />
<line x1="370.50" y1="292.10" x2="370.50" y2="298.60" stroke="#222" stroke-width="1.0" />
<line x1="366.10" y1="292.50" x2="374.70" y2="292.50" stroke="#222" stroke-width="1.0" />
<line x1="366.10" y1="298.50" x2="374.70" y2="298.50" stroke="#222" stroke-width="1.0" />
<circle cx="367.30" cy="289.40" r="1.5" fill="#0c4a92"/>
<circle cx="373.50" cy="287.70" r="1.5" fill="#0c4a92"/>
<circle cx="367.30" cy="298.00" r="1.5" fill="#0c4a92"/>
<circle cx="373.50" cy="301.10" r="1.5" fill="#0c4a92"/>
<circle cx="367.30" cy="301.70" r="1.5" fill="#0c4a92"/>
<line x1="396.50" y1="250.30" x2="396.50" y2="276.00" stroke="#222" stroke-width="1.0" />
<line x1="392.60" y1="250.50" x2="401.00" y2="250.50" stroke="#222" stroke-width="1.0" />
<line x1="392.60" y1="276.50" x2="401.00" y2="276.50" stroke="#222" stroke-width="1.0" />
<path d="M394.80,217.10H398.80L396.80,213.50Z" fill="#cc0632"/>
<path d="M391.70,273.70H395.70L393.70,270.10Z" fill="#cc0632"/>
<path d="M397.20,272.00H401.20L399.20,268.40Z" fill="#cc0632"/>
<path d="M397.60,275.70H401.60L399.60,272.10Z" fill="#cc0632"/>
<path d="M394.80,288.70H398.80L396.80,285.10Z" fill="#cc0632"/>
<line x1="351.00" y1="304.70" x2="414.80" y2="304.70" stroke="#222" stroke-width="1.3" />
<line x1="370.40" y1="304.70" x2="370.40" y2="307.70" stroke="#2a2a2a" stroke-width="1.1" />
<line x1="396.80" y1="304.70" x2="396.80" y2="307.70" stroke="#2a2a2a" stroke-width="1.1" />
<line x1="364.60" y1="211.50" x2="396.10" y2="211.50" stroke="#333" stroke-width="1.0" />
<polygon points="379.50,204.85 380.02,206.09 381.35,206.20 380.33,207.07 380.65,208.38 379.50,207.68 378.35,208.38 378.67,207.07 377.65,206.20 378.98,206.09" fill="#111"/>
<text x="370.30" y="317.00" font-size="8.0" text-anchor="middle" textLength="11.60" lengthAdjust="spacingAndGlyphs">UN</text>
<text x="396.50" y="317.00" font-size="8.0" text-anchor="middle" textLength="20.00" lengthAdjust="spacingAndGlyphs">CD40</text>
<text x="471.60" y="191.80" font-size="9.9" textLength="16.50" lengthAdjust="spacingAndGlyphs">pS6</text>
<line x1="450.60" y1="206.80" x2="450.60" y2="305.45" stroke="#2a2a2a" stroke-width="1.35" />
<line x1="447.60" y1="304.70" x2="450.60" y2="304.70" stroke="#2a2a2a" stroke-width="1.1" />
<text x="444.60" y="308.03" font-size="8.3" text-anchor="end" textLength="4.20" lengthAdjust="spacingAndGlyphs">0</text>
<line x1="447.60" y1="285.92" x2="450.60" y2="285.92" stroke="#2a2a2a" stroke-width="1.1" />
<text x="444.60" y="289.25" font-size="8.3" text-anchor="end" textLength="8.70" lengthAdjust="spacingAndGlyphs">20</text>
<line x1="447.60" y1="267.14" x2="450.60" y2="267.14" stroke="#2a2a2a" stroke-width="1.1" />
<text x="444.60" y="270.47" font-size="8.3" text-anchor="end" textLength="8.70" lengthAdjust="spacingAndGlyphs">40</text>
<line x1="447.60" y1="248.36" x2="450.60" y2="248.36" stroke="#2a2a2a" stroke-width="1.1" />
<text x="444.60" y="251.69" font-size="8.3" text-anchor="end" textLength="8.70" lengthAdjust="spacingAndGlyphs">60</text>
<line x1="447.60" y1="229.58" x2="450.60" y2="229.58" stroke="#2a2a2a" stroke-width="1.1" />
<text x="444.60" y="232.91" font-size="8.3" text-anchor="end" textLength="8.70" lengthAdjust="spacingAndGlyphs">80</text>
<line x1="447.60" y1="210.80" x2="450.60" y2="210.80" stroke="#2a2a2a" stroke-width="1.1" />
<text x="444.60" y="214.13" font-size="8.3" text-anchor="end" textLength="13.20" lengthAdjust="spacingAndGlyphs">100</text>
<text x="426.20" y="278.00" font-size="8.6" textLength="44.00" lengthAdjust="spacingAndGlyphs" transform="rotate(-90 426.20 278.00)">pS6-high (%)</text>
<rect x="483.50" y="243.90" width="19.50" height="60.80" fill="#9ed9a6" />
<rect x="459.50" y="303.20" width="18.00" height="1.50" fill="#86aad0" />
<circle cx="460.90" cy="304.20" r="1.4" fill="#0c4a92"/>
<circle cx="464.90" cy="302.40" r="1.4" fill="#0c4a92"/>
<circle cx="468.60" cy="304.20" r="1.4" fill="#0c4a92"/>
<circle cx="472.00" cy="304.20" r="1.4" fill="#0c4a92"/>
<circle cx="476.00" cy="304.20" r="1.4" fill="#0c4a92"/>
<line x1="493.50" y1="231.00" x2="493.50" y2="258.10" stroke="#222" stroke-width="1.0" />
<line x1="488.60" y1="231.50" x2="497.40" y2="231.50" stroke="#222" stroke-width="1.0" />
<line x1="488.60" y1="258.50" x2="497.40" y2="258.50" stroke="#222" stroke-width="1.0" />
<path d="M491.10,213.21H494.90L493.00,209.79Z" fill="#2db34a"/>
<path d="M491.10,221.21H494.90L493.00,217.79Z" fill="#2db34a"/>
<path d="M491.10,253.11H494.90L493.00,249.69Z" fill="#2db34a"/>
<path d="M491.10,258.91H494.90L493.00,255.49Z" fill="#2db34a"/>
<path d="M491.10,286.61H494.90L493.00,283.19Z" fill="#2db34a"/>
<line x1="448.00" y1="304.85" x2="509.20" y2="304.85" stroke="#222" stroke-width="1.3" />
<line x1="468.20" y1="304.85" x2="468.20" y2="307.85" stroke="#2a2a2a" stroke-width="1.1" />
<line x1="493.00" y1="304.85" x2="493.00" y2="307.85" stroke="#2a2a2a" stroke-width="1.1" />
<line x1="467.10" y1="207.50" x2="494.10" y2="207.50" stroke="#333" stroke-width="1.0" />
<polygon points="479.70,200.85 480.22,202.09 481.55,202.20 480.53,203.07 480.85,204.38 479.70,203.68 478.55,204.38 478.87,203.07 477.85,202.20 479.18,202.09" fill="#111"/>
<text x="468.20" y="317.20" font-size="8.0" text-anchor="middle" textLength="11.90" lengthAdjust="spacingAndGlyphs">UN</text>
<text x="493.10" y="317.20" font-size="8.0" text-anchor="middle" textLength="15.40" lengthAdjust="spacingAndGlyphs">BCR</text>
<line x1="39.00" y1="366.00" x2="39.00" y2="467.30" stroke="#4a4a4a" stroke-width="1.8" />
<line x1="35.60" y1="466.50" x2="38.20" y2="466.50" stroke="#333" stroke-width="1.0" />
<text x="32.90" y="469.49" font-size="8.3" text-anchor="end" textLength="3.80" lengthAdjust="spacingAndGlyphs">0</text>
<line x1="35.60" y1="434.50" x2="38.20" y2="434.50" stroke="#333" stroke-width="1.0" />
<text x="32.90" y="437.12" font-size="8.3" text-anchor="end" textLength="12.00" lengthAdjust="spacingAndGlyphs">100</text>
<line x1="35.60" y1="401.50" x2="38.20" y2="401.50" stroke="#333" stroke-width="1.0" />
<text x="32.90" y="404.75" font-size="8.3" text-anchor="end" textLength="12.00" lengthAdjust="spacingAndGlyphs">200</text>
<line x1="35.60" y1="369.50" x2="38.20" y2="369.50" stroke="#333" stroke-width="1.0" />
<text x="32.90" y="372.39" font-size="8.3" text-anchor="end" textLength="12.00" lengthAdjust="spacingAndGlyphs">300</text>
<line x1="38.10" y1="466.50" x2="107.00" y2="466.50" stroke="#4a4a4a" stroke-width="1.8" />
<line x1="38.50" y1="467.20" x2="38.50" y2="469.40" stroke="#333" stroke-width="1.0" />
<line x1="55.50" y1="467.20" x2="55.50" y2="469.40" stroke="#333" stroke-width="1.0" />
<line x1="71.50" y1="467.20" x2="71.50" y2="469.40" stroke="#333" stroke-width="1.0" />
<line x1="87.50" y1="467.20" x2="87.50" y2="469.40" stroke="#333" stroke-width="1.0" />
<line x1="103.50" y1="467.20" x2="103.50" y2="469.40" stroke="#333" stroke-width="1.0" />
<text x="39.10" y="478.90" font-size="8.3" text-anchor="middle" textLength="3.80" lengthAdjust="spacingAndGlyphs">0</text>
<text x="55.23" y="478.90" font-size="8.3" text-anchor="middle" textLength="7.90" lengthAdjust="spacingAndGlyphs">20</text>
<text x="71.35" y="478.90" font-size="8.3" text-anchor="middle" textLength="7.90" lengthAdjust="spacingAndGlyphs">40</text>
<text x="87.48" y="478.90" font-size="8.3" text-anchor="middle" textLength="7.90" lengthAdjust="spacingAndGlyphs">60</text>
<text x="103.60" y="478.90" font-size="8.3" text-anchor="middle" textLength="7.90" lengthAdjust="spacingAndGlyphs">80</text>
<text x="46.90" y="488.80" font-size="9.0" textLength="50.20" lengthAdjust="spacingAndGlyphs">Time (minutes)</text>
<text x="13.00" y="443.60" font-size="8.8" textLength="54.20" lengthAdjust="spacingAndGlyphs" transform="rotate(-90 13.00 443.60)">OCR (pmol/min)</text>
<line x1="71.50" y1="416.80" x2="71.50" y2="437.00" stroke="#333" stroke-width="1.0" />
<line x1="69.90" y1="416.50" x2="73.90" y2="416.50" stroke="#333" stroke-width="1.0" />
<line x1="69.90" y1="437.50" x2="73.90" y2="437.50" stroke="#333" stroke-width="1.0" />
<line x1="77.50" y1="423.40" x2="77.50" y2="446.00" stroke="#333" stroke-width="1.0" />
<line x1="75.40" y1="423.50" x2="79.40" y2="423.50" stroke="#333" stroke-width="1.0" />
<line x1="75.40" y1="446.50" x2="79.40" y2="446.50" stroke="#333" stroke-width="1.0" />
<line x1="82.50" y1="428.50" x2="82.50" y2="449.00" stroke="#333" stroke-width="1.0" />
<line x1="80.80" y1="428.50" x2="84.80" y2="428.50" stroke="#333" stroke-width="1.0" />
<line x1="80.80" y1="449.50" x2="84.80" y2="449.50" stroke="#333" stroke-width="1.0" />
<line x1="71.50" y1="383.70" x2="71.50" y2="387.70" stroke="#333" stroke-width="1.0" />
<line x1="69.90" y1="383.50" x2="73.90" y2="383.50" stroke="#333" stroke-width="1.0" />
<line x1="77.50" y1="387.70" x2="77.50" y2="391.70" stroke="#333" stroke-width="1.0" />
<line x1="75.40" y1="387.50" x2="79.40" y2="387.50" stroke="#333" stroke-width="1.0" />
<line x1="82.50" y1="390.80" x2="82.50" y2="394.80" stroke="#333" stroke-width="1.0" />
<line x1="80.80" y1="390.50" x2="84.80" y2="390.50" stroke="#333" stroke-width="1.0" />
<polyline points="39.70,416.00 45.10,419.40 50.20,420.40 55.60,426.50 61.25,441.00 66.30,446.20 71.90,385.70 77.40,389.60 82.80,394.20 88.50,458.70 93.50,458.30 98.50,458.30" fill="none" stroke="#da0a30" stroke-width="1.6" stroke-linejoin="round" />
<path d="M37.50,417.98H41.90L39.70,414.02Z" fill="#da0a30"/>
<path d="M42.90,421.38H47.30L45.10,417.42Z" fill="#da0a30"/>
<path d="M48.00,422.38H52.40L50.20,418.42Z" fill="#da0a30"/>
<path d="M53.40,428.48H57.80L55.60,424.52Z" fill="#da0a30"/>
<path d="M59.05,442.98H63.45L61.25,439.02Z" fill="#da0a30"/>
<path d="M64.10,448.18H68.50L66.30,444.22Z" fill="#da0a30"/>
<path d="M69.70,387.68H74.10L71.90,383.72Z" fill="#da0a30"/>
<path d="M75.20,391.58H79.60L77.40,387.62Z" fill="#da0a30"/>
<path d="M80.60,396.18H85.00L82.80,392.22Z" fill="#da0a30"/>
<path d="M86.30,460.68H90.70L88.50,456.72Z" fill="#da0a30"/>
<path d="M91.30,460.28H95.70L93.50,456.32Z" fill="#da0a30"/>
<path d="M96.30,460.28H100.70L98.50,456.32Z" fill="#da0a30"/>
<polyline points="39.70,438.50 45.10,440.60 50.20,441.00 55.60,453.30 61.25,457.70 66.30,458.10 71.90,424.00 77.40,431.50 82.80,438.50 88.50,461.10 93.50,461.10 98.50,461.10" fill="none" stroke="#33b93a" stroke-width="1.6" stroke-linejoin="round" />
<rect x="38.20" y="437.00" width="3.0" height="3.0" fill="#33b93a"/>
<rect x="43.60" y="439.10" width="3.0" height="3.0" fill="#33b93a"/>
<rect x="48.70" y="439.50" width="3.0" height="3.0" fill="#33b93a"/>
<rect x="54.10" y="451.80" width="3.0" height="3.0" fill="#33b93a"/>
<rect x="59.75" y="456.20" width="3.0" height="3.0" fill="#33b93a"/>
<rect x="64.80" y="456.60" width="3.0" height="3.0" fill="#33b93a"/>
<rect x="70.40" y="422.50" width="3.0" height="3.0" fill="#33b93a"/>
<rect x="75.90" y="430.00" width="3.0" height="3.0" fill="#33b93a"/>
<rect x="81.30" y="437.00" width="3.0" height="3.0" fill="#33b93a"/>
<rect x="87.00" y="459.60" width="3.0" height="3.0" fill="#33b93a"/>
<rect x="92.00" y="459.60" width="3.0" height="3.0" fill="#33b93a"/>
<rect x="97.00" y="459.60" width="3.0" height="3.0" fill="#33b93a"/>
<polyline points="39.70,449.60 45.10,451.25 50.20,451.65 55.60,456.70 61.25,461.10 66.30,461.10 71.90,437.10 77.40,442.20 82.80,444.60 88.50,462.70 93.50,462.70 98.50,462.70" fill="none" stroke="#104c94" stroke-width="1.6" stroke-linejoin="round" />
<circle cx="39.70" cy="449.60" r="2.1" fill="#104c94"/>
<circle cx="45.10" cy="451.25" r="2.1" fill="#104c94"/>
<circle cx="50.20" cy="451.65" r="2.1" fill="#104c94"/>
<circle cx="55.60" cy="456.70" r="2.1" fill="#104c94"/>
<circle cx="61.25" cy="461.10" r="2.1" fill="#104c94"/>
<circle cx="66.30" cy="461.10" r="2.1" fill="#104c94"/>
<circle cx="71.90" cy="437.10" r="2.1" fill="#104c94"/>
<circle cx="77.40" cy="442.20" r="2.1" fill="#104c94"/>
<circle cx="82.80" cy="444.60" r="2.1" fill="#104c94"/>
<circle cx="88.50" cy="462.70" r="2.1" fill="#104c94"/>
<circle cx="93.50" cy="462.70" r="2.1" fill="#104c94"/>
<circle cx="98.50" cy="462.70" r="2.1" fill="#104c94"/>
<line x1="77.80" y1="362.40" x2="91.40" y2="362.40" stroke="#104c94" stroke-width="1.7" />
<circle cx="84.60" cy="362.40" r="2.1" fill="#104c94"/>
<line x1="77.80" y1="371.80" x2="91.40" y2="371.80" stroke="#33b93a" stroke-width="1.7" />
<rect x="82.80" y="370.00" width="3.6" height="3.6" fill="#33b93a"/>
<line x1="77.80" y1="381.00" x2="91.40" y2="381.00" stroke="#da0a30" stroke-width="1.7" />
<path d="M82.40,382.68H86.80L84.60,378.72Z" fill="#da0a30"/>
<text x="94.70" y="365.30" font-size="8.2" textLength="11.80" lengthAdjust="spacingAndGlyphs">UN</text>
<text x="94.70" y="374.60" font-size="8.2" textLength="15.00" lengthAdjust="spacingAndGlyphs">BCR</text>
<text x="94.70" y="384.00" font-size="8.2" textLength="19.40" lengthAdjust="spacingAndGlyphs">CD40</text>
<text x="158.30" y="363.70" font-size="9.9" textLength="44.90" lengthAdjust="spacingAndGlyphs">Basal OCR</text>
<line x1="150.60" y1="372.40" x2="150.60" y2="467.20" stroke="#2a2a2a" stroke-width="1.35" />
<line x1="147.60" y1="466.50" x2="150.60" y2="466.50" stroke="#2a2a2a" stroke-width="1.1" />
<text x="144.60" y="469.83" font-size="8.3" text-anchor="end" textLength="4.20" lengthAdjust="spacingAndGlyphs">0</text>
<line x1="147.60" y1="448.56" x2="150.60" y2="448.56" stroke="#2a2a2a" stroke-width="1.1" />
<text x="144.60" y="451.89" font-size="8.3" text-anchor="end" textLength="8.70" lengthAdjust="spacingAndGlyphs">50</text>
<line x1="147.60" y1="430.62" x2="150.60" y2="430.62" stroke="#2a2a2a" stroke-width="1.1" />
<text x="144.60" y="433.95" font-size="8.3" text-anchor="end" textLength="13.20" lengthAdjust="spacingAndGlyphs">100</text>
<line x1="147.60" y1="412.68" x2="150.60" y2="412.68" stroke="#2a2a2a" stroke-width="1.1" />
<text x="144.60" y="416.01" font-size="8.3" text-anchor="end" textLength="13.20" lengthAdjust="spacingAndGlyphs">150</text>
<line x1="147.60" y1="394.74" x2="150.60" y2="394.74" stroke="#2a2a2a" stroke-width="1.1" />
<text x="144.60" y="398.07" font-size="8.3" text-anchor="end" textLength="13.20" lengthAdjust="spacingAndGlyphs">200</text>
<line x1="147.60" y1="376.80" x2="150.60" y2="376.80" stroke="#2a2a2a" stroke-width="1.1" />
<text x="144.60" y="380.13" font-size="8.3" text-anchor="end" textLength="13.20" lengthAdjust="spacingAndGlyphs">250</text>
<text x="124.60" y="447.90" font-size="8.8" textLength="53.80" lengthAdjust="spacingAndGlyphs" transform="rotate(-90 124.60 447.90)">OCR (pmol/min)</text>
<rect x="157.20" y="457.00" width="11.80" height="9.50" fill="#86aad0" />
<rect x="175.10" y="449.20" width="11.70" height="17.30" fill="#9ed9a6" />
<rect x="193.00" y="435.80" width="12.30" height="30.70" fill="#df8a9a" />
<line x1="163.50" y1="456.40" x2="163.50" y2="459.50" stroke="#222" stroke-width="1.0" />
<line x1="161.20" y1="456.50" x2="165.60" y2="456.50" stroke="#222" stroke-width="1.0" />
<line x1="161.20" y1="459.50" x2="165.60" y2="459.50" stroke="#222" stroke-width="1.0" />
<circle cx="162.80" cy="445.10" r="1.55" fill="#0c4a92"/>
<circle cx="162.80" cy="450.70" r="1.55" fill="#0c4a92"/>
<circle cx="163.60" cy="452.10" r="1.55" fill="#0c4a92"/>
<circle cx="161.90" cy="453.30" r="1.55" fill="#0c4a92"/>
<circle cx="163.30" cy="454.70" r="1.55" fill="#0c4a92"/>
<circle cx="158.50" cy="458.10" r="1.55" fill="#0c4a92"/>
<circle cx="160.80" cy="458.10" r="1.55" fill="#0c4a92"/>
<circle cx="163.30" cy="458.10" r="1.55" fill="#0c4a92"/>
<circle cx="165.30" cy="458.10" r="1.55" fill="#0c4a92"/>
<circle cx="167.30" cy="458.10" r="1.55" fill="#0c4a92"/>
<circle cx="164.20" cy="459.80" r="1.55" fill="#0c4a92"/>
<circle cx="161.10" cy="461.80" r="1.55" fill="#0c4a92"/>
<circle cx="163.30" cy="462.30" r="1.55" fill="#0c4a92"/>
<circle cx="165.00" cy="462.00" r="1.55" fill="#0c4a92"/>
<rect x="176.95" y="444.05" width="2.7" height="2.7" fill="#2db34a"/>
<rect x="182.35" y="442.95" width="2.7" height="2.7" fill="#2db34a"/>
<rect x="176.95" y="448.15" width="2.7" height="2.7" fill="#2db34a"/>
<rect x="182.75" y="450.15" width="2.7" height="2.7" fill="#2db34a"/>
<rect x="176.95" y="452.15" width="2.7" height="2.7" fill="#2db34a"/>
<line x1="181.50" y1="447.40" x2="181.50" y2="450.40" stroke="#222" stroke-width="1.0" />
<line x1="179.60" y1="447.50" x2="183.40" y2="447.50" stroke="#222" stroke-width="1.0" />
<line x1="179.60" y1="450.50" x2="183.40" y2="450.50" stroke="#222" stroke-width="1.0" />
<path d="M197.70,396.44H200.90L199.30,393.56Z" fill="#cc0632"/>
<path d="M197.10,425.74H200.30L198.70,422.86Z" fill="#cc0632"/>
<path d="M195.70,431.04H198.90L197.30,428.16Z" fill="#cc0632"/>
<path d="M199.40,429.94H202.60L201.00,427.06Z" fill="#cc0632"/>
<path d="M192.50,435.64H195.70L194.10,432.76Z" fill="#cc0632"/>
<path d="M195.70,434.54H198.90L197.30,431.66Z" fill="#cc0632"/>
<path d="M198.90,433.64H202.10L200.50,430.76Z" fill="#cc0632"/>
<path d="M202.30,435.94H205.50L203.90,433.06Z" fill="#cc0632"/>
<path d="M196.80,437.64H200.00L198.40,434.76Z" fill="#cc0632"/>
<path d="M199.40,438.24H202.60L201.00,435.36Z" fill="#cc0632"/>
<path d="M196.00,441.14H199.20L197.60,438.26Z" fill="#cc0632"/>
<path d="M198.90,443.94H202.10L200.50,441.06Z" fill="#cc0632"/>
<path d="M192.90,448.34H196.10L194.50,445.46Z" fill="#cc0632"/>
<path d="M196.30,448.84H199.50L197.90,445.96Z" fill="#cc0632"/>
<path d="M199.40,448.84H202.60L201.00,445.96Z" fill="#cc0632"/>
<path d="M202.30,450.34H205.50L203.90,447.46Z" fill="#cc0632"/>
<path d="M197.10,458.94H200.30L198.70,456.06Z" fill="#cc0632"/>
<line x1="199.50" y1="433.30" x2="199.50" y2="439.10" stroke="#222" stroke-width="1.0" />
<line x1="196.40" y1="433.50" x2="201.60" y2="433.50" stroke="#222" stroke-width="1.0" />
<line x1="196.40" y1="439.50" x2="201.60" y2="439.50" stroke="#222" stroke-width="1.0" />
<line x1="147.50" y1="466.60" x2="210.80" y2="466.60" stroke="#222" stroke-width="1.3" />
<line x1="162.60" y1="466.60" x2="162.60" y2="469.60" stroke="#2a2a2a" stroke-width="1.1" />
<line x1="180.80" y1="466.60" x2="180.80" y2="469.60" stroke="#2a2a2a" stroke-width="1.1" />
<line x1="198.70" y1="466.60" x2="198.70" y2="469.60" stroke="#2a2a2a" stroke-width="1.1" />
<line x1="159.00" y1="391.50" x2="198.90" y2="391.50" stroke="#333" stroke-width="1.0" />
<polygon points="172.85,384.95 173.37,386.19 174.70,386.30 173.68,387.17 174.00,388.48 172.85,387.78 171.70,388.48 172.02,387.17 171.00,386.30 172.33,386.19" fill="#111"/>
<polygon points="176.95,384.95 177.47,386.19 178.80,386.30 177.78,387.17 178.10,388.48 176.95,387.78 175.80,388.48 176.12,387.17 175.10,386.30 176.43,386.19" fill="#111"/>
<polygon points="181.05,384.95 181.57,386.19 182.90,386.30 181.88,387.17 182.20,388.48 181.05,387.78 179.90,388.48 180.22,387.17 179.20,386.30 180.53,386.19" fill="#111"/>
<polygon points="185.15,384.95 185.67,386.19 187.00,386.30 185.98,387.17 186.30,388.48 185.15,387.78 184.00,388.48 184.32,387.17 183.30,386.30 184.63,386.19" fill="#111"/>
<line x1="161.00" y1="436.50" x2="179.10" y2="436.50" stroke="#333" stroke-width="1.0" />
<polygon points="163.95,429.25 164.47,430.49 165.80,430.60 164.78,431.47 165.10,432.78 163.95,432.08 162.80,432.78 163.12,431.47 162.10,430.60 163.43,430.49" fill="#111"/>
<polygon points="168.05,429.25 168.57,430.49 169.90,430.60 168.88,431.47 169.20,432.78 168.05,432.08 166.90,432.78 167.22,431.47 166.20,430.60 167.53,430.49" fill="#111"/>
<polygon points="172.15,429.25 172.67,430.49 174.00,430.60 172.98,431.47 173.30,432.78 172.15,432.08 171.00,432.78 171.32,431.47 170.30,430.60 171.63,430.49" fill="#111"/>
<polygon points="176.25,429.25 176.77,430.49 178.10,430.60 177.08,431.47 177.40,432.78 176.25,432.08 175.10,432.78 175.42,431.47 174.40,430.60 175.73,430.49" fill="#111"/>
<text x="163.50" y="478.00" font-size="8.0" text-anchor="middle" textLength="12.00" lengthAdjust="spacingAndGlyphs">UN</text>
<text x="181.60" y="478.00" font-size="8.0" text-anchor="middle" textLength="15.70" lengthAdjust="spacingAndGlyphs">BCR</text>
<text x="200.60" y="478.00" font-size="8.0" text-anchor="middle" textLength="20.20" lengthAdjust="spacingAndGlyphs">CD40</text>
<text x="251.20" y="363.70" font-size="9.9" textLength="58.90" lengthAdjust="spacingAndGlyphs">Maximal OCR</text>
<line x1="250.80" y1="372.40" x2="250.80" y2="467.20" stroke="#2a2a2a" stroke-width="1.35" />
<line x1="247.80" y1="466.50" x2="250.80" y2="466.50" stroke="#2a2a2a" stroke-width="1.1" />
<text x="244.80" y="469.83" font-size="8.3" text-anchor="end" textLength="4.20" lengthAdjust="spacingAndGlyphs">0</text>
<line x1="247.80" y1="436.60" x2="250.80" y2="436.60" stroke="#2a2a2a" stroke-width="1.1" />
<text x="244.80" y="439.93" font-size="8.3" text-anchor="end" textLength="13.20" lengthAdjust="spacingAndGlyphs">200</text>
<line x1="247.80" y1="406.70" x2="250.80" y2="406.70" stroke="#2a2a2a" stroke-width="1.1" />
<text x="244.80" y="410.03" font-size="8.3" text-anchor="end" textLength="13.20" lengthAdjust="spacingAndGlyphs">400</text>
<line x1="247.80" y1="376.80" x2="250.80" y2="376.80" stroke="#2a2a2a" stroke-width="1.1" />
<text x="244.80" y="380.13" font-size="8.3" text-anchor="end" textLength="13.20" lengthAdjust="spacingAndGlyphs">600</text>
<text x="224.90" y="447.90" font-size="8.8" textLength="53.80" lengthAdjust="spacingAndGlyphs" transform="rotate(-90 224.90 447.90)">OCR (pmol/min)</text>
<rect x="256.80" y="458.40" width="11.90" height="8.10" fill="#86aad0" />
<rect x="275.00" y="449.30" width="11.80" height="17.20" fill="#9ed9a6" />
<rect x="293.10" y="423.50" width="11.90" height="43.00" fill="#df8a9a" />
<circle cx="259.50" cy="454.20" r="1.45" fill="#0c4a92"/>
<circle cx="265.50" cy="456.00" r="1.45" fill="#0c4a92"/>
<circle cx="259.50" cy="456.60" r="1.45" fill="#0c4a92"/>
<circle cx="265.30" cy="460.20" r="1.45" fill="#0c4a92"/>
<circle cx="259.50" cy="463.00" r="1.45" fill="#0c4a92"/>
<line x1="262.50" y1="456.60" x2="262.50" y2="459.60" stroke="#222" stroke-width="1.0" />
<line x1="261.10" y1="456.50" x2="264.10" y2="456.50" stroke="#222" stroke-width="1.0" />
<line x1="261.10" y1="459.50" x2="264.10" y2="459.50" stroke="#222" stroke-width="1.0" />
<rect x="274.25" y="441.95" width="2.7" height="2.7" fill="#2db34a"/>
<rect x="279.65" y="444.65" width="2.7" height="2.7" fill="#2db34a"/>
<rect x="279.65" y="447.95" width="2.7" height="2.7" fill="#2db34a"/>
<rect x="283.35" y="447.95" width="2.7" height="2.7" fill="#2db34a"/>
<rect x="274.25" y="450.35" width="2.7" height="2.7" fill="#2db34a"/>
<line x1="281.50" y1="445.70" x2="281.50" y2="449.90" stroke="#222" stroke-width="1.0" />
<line x1="278.90" y1="445.50" x2="283.70" y2="445.50" stroke="#222" stroke-width="1.0" />
<line x1="278.90" y1="449.50" x2="283.70" y2="449.50" stroke="#222" stroke-width="1.0" />
<line x1="299.50" y1="414.00" x2="299.50" y2="432.40" stroke="#222" stroke-width="1.0" />
<line x1="296.50" y1="414.50" x2="301.90" y2="414.50" stroke="#222" stroke-width="1.0" />
<line x1="296.50" y1="432.50" x2="301.90" y2="432.50" stroke="#222" stroke-width="1.0" />
<path d="M297.80,389.64H301.00L299.40,386.76Z" fill="#cc0632"/>
<path d="M297.60,425.34H300.80L299.20,422.46Z" fill="#cc0632"/>
<path d="M293.70,434.44H296.90L295.30,431.56Z" fill="#cc0632"/>
<path d="M300.00,435.64H303.20L301.60,432.76Z" fill="#cc0632"/>
<path d="M297.60,441.04H300.80L299.20,438.16Z" fill="#cc0632"/>
<line x1="248.00" y1="466.60" x2="310.50" y2="466.60" stroke="#222" stroke-width="1.3" />
<line x1="262.60" y1="466.60" x2="262.60" y2="469.60" stroke="#2a2a2a" stroke-width="1.1" />
<line x1="280.80" y1="466.60" x2="280.80" y2="469.60" stroke="#2a2a2a" stroke-width="1.1" />
<line x1="298.90" y1="466.60" x2="298.90" y2="469.60" stroke="#2a2a2a" stroke-width="1.1" />
<line x1="260.00" y1="386.50" x2="299.50" y2="386.50" stroke="#333" stroke-width="1.0" />
<polygon points="279.60,378.05 280.12,379.29 281.45,379.40 280.43,380.27 280.75,381.58 279.60,380.88 278.45,381.58 278.77,380.27 277.75,379.40 279.08,379.29" fill="#111"/>
<line x1="261.10" y1="435.50" x2="276.80" y2="435.50" stroke="#333" stroke-width="1.0" />
<polygon points="268.90,428.05 269.42,429.29 270.75,429.40 269.73,430.27 270.05,431.58 268.90,430.88 267.75,431.58 268.07,430.27 267.05,429.40 268.38,429.29" fill="#111"/>
<text x="263.10" y="478.00" font-size="8.0" text-anchor="middle" textLength="11.30" lengthAdjust="spacingAndGlyphs">UN</text>
<text x="280.50" y="478.00" font-size="8.0" text-anchor="middle" textLength="15.00" lengthAdjust="spacingAndGlyphs">BCR</text>
<text x="300.00" y="478.00" font-size="8.0" text-anchor="middle" textLength="20.00" lengthAdjust="spacingAndGlyphs">CD40</text>
<text x="326.30" y="363.70" font-size="9.9" textLength="110.40" lengthAdjust="spacingAndGlyphs">Spare respiratory capacity</text>
<line x1="352.00" y1="372.40" x2="352.00" y2="467.20" stroke="#2a2a2a" stroke-width="1.35" />
<line x1="349.00" y1="466.50" x2="352.00" y2="466.50" stroke="#2a2a2a" stroke-width="1.1" />
<text x="346.00" y="469.83" font-size="8.3" text-anchor="end" textLength="4.20" lengthAdjust="spacingAndGlyphs">0</text>
<line x1="349.00" y1="444.07" x2="352.00" y2="444.07" stroke="#2a2a2a" stroke-width="1.1" />
<text x="346.00" y="447.40" font-size="8.3" text-anchor="end" textLength="13.20" lengthAdjust="spacingAndGlyphs">100</text>
<line x1="349.00" y1="421.65" x2="352.00" y2="421.65" stroke="#2a2a2a" stroke-width="1.1" />
<text x="346.00" y="424.98" font-size="8.3" text-anchor="end" textLength="13.20" lengthAdjust="spacingAndGlyphs">200</text>
<line x1="349.00" y1="399.23" x2="352.00" y2="399.23" stroke="#2a2a2a" stroke-width="1.1" />
<text x="346.00" y="402.55" font-size="8.3" text-anchor="end" textLength="13.20" lengthAdjust="spacingAndGlyphs">300</text>
<line x1="349.00" y1="376.80" x2="352.00" y2="376.80" stroke="#2a2a2a" stroke-width="1.1" />
<text x="346.00" y="380.13" font-size="8.3" text-anchor="end" textLength="13.20" lengthAdjust="spacingAndGlyphs">400</text>
<text x="326.90" y="447.90" font-size="8.8" textLength="53.80" lengthAdjust="spacingAndGlyphs" transform="rotate(-90 326.90 447.90)">OCR (pmol/min)</text>
<rect x="358.20" y="459.80" width="12.50" height="6.70" fill="#86aad0" />
<rect x="376.40" y="449.30" width="12.10" height="17.20" fill="#9ed9a6" />
<rect x="394.20" y="428.10" width="12.40" height="38.40" fill="#df8a9a" />
<circle cx="361.30" cy="455.70" r="1.45" fill="#0c4a92"/>
<circle cx="366.70" cy="455.70" r="1.45" fill="#0c4a92"/>
<circle cx="361.50" cy="460.20" r="1.45" fill="#0c4a92"/>
<circle cx="367.10" cy="460.80" r="1.45" fill="#0c4a92"/>
<circle cx="364.30" cy="465.40" r="1.45" fill="#0c4a92"/>
<line x1="364.50" y1="457.80" x2="364.50" y2="461.40" stroke="#222" stroke-width="1.0" />
<line x1="362.70" y1="457.50" x2="366.10" y2="457.50" stroke="#222" stroke-width="1.0" />
<line x1="362.70" y1="461.50" x2="366.10" y2="461.50" stroke="#222" stroke-width="1.0" />
<rect x="380.75" y="438.25" width="2.7" height="2.7" fill="#2db34a"/>
<rect x="383.45" y="447.15" width="2.7" height="2.7" fill="#2db34a"/>
<rect x="377.45" y="449.15" width="2.7" height="2.7" fill="#2db34a"/>
<rect x="383.85" y="451.55" width="2.7" height="2.7" fill="#2db34a"/>
<rect x="377.45" y="453.65" width="2.7" height="2.7" fill="#2db34a"/>
<line x1="382.50" y1="446.30" x2="382.50" y2="452.30" stroke="#222" stroke-width="1.0" />
<line x1="380.50" y1="446.50" x2="384.30" y2="446.50" stroke="#222" stroke-width="1.0" />
<line x1="380.50" y1="452.50" x2="384.30" y2="452.50" stroke="#222" stroke-width="1.0" />
<line x1="400.50" y1="418.70" x2="400.50" y2="437.60" stroke="#222" stroke-width="1.0" />
<line x1="397.70" y1="418.50" x2="403.50" y2="418.50" stroke="#222" stroke-width="1.0" />
<line x1="397.70" y1="437.50" x2="403.50" y2="437.50" stroke="#222" stroke-width="1.0" />
<path d="M398.90,394.74H402.10L400.50,391.86Z" fill="#cc0632"/>
<path d="M399.00,426.94H402.20L400.60,424.06Z" fill="#cc0632"/>
<path d="M399.00,439.54H402.20L400.60,436.66Z" fill="#cc0632"/>
<path d="M395.70,444.74H398.90L397.30,441.86Z" fill="#cc0632"/>
<path d="M401.40,443.84H404.60L403.00,440.96Z" fill="#cc0632"/>
<line x1="349.50" y1="466.60" x2="412.50" y2="466.60" stroke="#222" stroke-width="1.3" />
<line x1="364.30" y1="466.60" x2="364.30" y2="469.60" stroke="#2a2a2a" stroke-width="1.1" />
<line x1="382.40" y1="466.60" x2="382.40" y2="469.60" stroke="#2a2a2a" stroke-width="1.1" />
<line x1="400.60" y1="466.60" x2="400.60" y2="469.60" stroke="#2a2a2a" stroke-width="1.1" />
<line x1="361.30" y1="385.50" x2="400.50" y2="385.50" stroke="#333" stroke-width="1.0" />
<polygon points="380.80,378.05 381.32,379.29 382.65,379.40 381.63,380.27 381.95,381.58 380.80,380.88 379.65,381.58 379.97,380.27 378.95,379.40 380.28,379.29" fill="#111"/>
<line x1="361.90" y1="435.50" x2="378.80" y2="435.50" stroke="#333" stroke-width="1.0" />
<text x="370.60" y="432.70" font-size="8.6" text-anchor="middle" textLength="8.90" lengthAdjust="spacingAndGlyphs">ns</text>
<text x="364.40" y="478.00" font-size="8.0" text-anchor="middle" textLength="11.30" lengthAdjust="spacingAndGlyphs">UN</text>
<text x="382.00" y="478.00" font-size="8.0" text-anchor="middle" textLength="15.00" lengthAdjust="spacingAndGlyphs">BCR</text>
<text x="401.20" y="478.00" font-size="8.0" text-anchor="middle" textLength="20.00" lengthAdjust="spacingAndGlyphs">CD40</text>
<text x="455.30" y="363.70" font-size="9.9" textLength="49.60" lengthAdjust="spacingAndGlyphs">Basal ECAR</text>
<line x1="450.00" y1="372.40" x2="450.00" y2="467.20" stroke="#2a2a2a" stroke-width="1.35" />
<line x1="447.00" y1="466.50" x2="450.00" y2="466.50" stroke="#2a2a2a" stroke-width="1.1" />
<text x="444.00" y="469.83" font-size="8.3" text-anchor="end" textLength="4.20" lengthAdjust="spacingAndGlyphs">0</text>
<line x1="447.00" y1="444.07" x2="450.00" y2="444.07" stroke="#2a2a2a" stroke-width="1.1" />
<text x="444.00" y="447.40" font-size="8.3" text-anchor="end" textLength="8.70" lengthAdjust="spacingAndGlyphs">20</text>
<line x1="447.00" y1="421.65" x2="450.00" y2="421.65" stroke="#2a2a2a" stroke-width="1.1" />
<text x="444.00" y="424.98" font-size="8.3" text-anchor="end" textLength="8.70" lengthAdjust="spacingAndGlyphs">40</text>
<line x1="447.00" y1="399.23" x2="450.00" y2="399.23" stroke="#2a2a2a" stroke-width="1.1" />
<text x="444.00" y="402.55" font-size="8.3" text-anchor="end" textLength="8.70" lengthAdjust="spacingAndGlyphs">60</text>
<line x1="447.00" y1="376.80" x2="450.00" y2="376.80" stroke="#2a2a2a" stroke-width="1.1" />
<text x="444.00" y="380.13" font-size="8.3" text-anchor="end" textLength="8.70" lengthAdjust="spacingAndGlyphs">80</text>
<text x="430.10" y="449.90" font-size="8.8" textLength="55.80" lengthAdjust="spacingAndGlyphs" transform="rotate(-90 430.10 449.90)">ECAR (mpH/min)</text>
<rect x="456.00" y="459.20" width="12.20" height="7.30" fill="#86aad0" />
<rect x="473.90" y="452.90" width="12.70" height="13.60" fill="#9ed9a6" />
<rect x="492.20" y="431.50" width="12.60" height="35.00" fill="#df8a9a" />
<circle cx="462.20" cy="448.30" r="1.45" fill="#0c4a92"/>
<circle cx="462.20" cy="454.00" r="1.45" fill="#0c4a92"/>
<circle cx="463.00" cy="455.50" r="1.45" fill="#0c4a92"/>
<circle cx="457.50" cy="458.50" r="1.45" fill="#0c4a92"/>
<circle cx="460.00" cy="458.00" r="1.45" fill="#0c4a92"/>
<circle cx="462.50" cy="458.20" r="1.45" fill="#0c4a92"/>
<circle cx="465.00" cy="458.50" r="1.45" fill="#0c4a92"/>
<circle cx="467.00" cy="459.50" r="1.45" fill="#0c4a92"/>
<circle cx="458.00" cy="461.00" r="1.45" fill="#0c4a92"/>
<circle cx="461.00" cy="460.80" r="1.45" fill="#0c4a92"/>
<circle cx="464.00" cy="461.00" r="1.45" fill="#0c4a92"/>
<circle cx="466.50" cy="462.00" r="1.45" fill="#0c4a92"/>
<circle cx="460.00" cy="463.30" r="1.45" fill="#0c4a92"/>
<circle cx="463.00" cy="463.80" r="1.45" fill="#0c4a92"/>
<circle cx="458.50" cy="463.50" r="1.45" fill="#0c4a92"/>
<rect x="473.75" y="452.15" width="2.7" height="2.7" fill="#2db34a"/>
<rect x="483.15" y="452.65" width="2.7" height="2.7" fill="#2db34a"/>
<rect x="478.95" y="455.55" width="2.7" height="2.7" fill="#2db34a"/>
<rect x="478.95" y="457.35" width="2.7" height="2.7" fill="#2db34a"/>
<path d="M478.70,444.93H481.90L480.30,447.87Z" fill="#2db34a"/>
<line x1="480.50" y1="446.80" x2="480.50" y2="452.10" stroke="#222" stroke-width="1.0" />
<line x1="478.00" y1="446.50" x2="483.20" y2="446.50" stroke="#222" stroke-width="1.0" />
<line x1="478.00" y1="452.50" x2="483.20" y2="452.50" stroke="#222" stroke-width="1.0" />
<path d="M497.10,402.85H500.10L498.60,400.15Z" fill="#cc0632"/>
<path d="M497.10,410.15H500.10L498.60,407.45Z" fill="#cc0632"/>
<path d="M497.10,417.95H500.10L498.60,415.25Z" fill="#cc0632"/>
<path d="M492.00,431.75H495.00L493.50,429.05Z" fill="#cc0632"/>
<path d="M494.20,431.75H497.20L495.70,429.05Z" fill="#cc0632"/>
<path d="M497.30,430.05H500.30L498.80,427.35Z" fill="#cc0632"/>
<path d="M501.20,431.05H504.20L502.70,428.35Z" fill="#cc0632"/>
<path d="M494.40,435.35H497.40L495.90,432.65Z" fill="#cc0632"/>
<path d="M497.30,434.35H500.30L498.80,431.65Z" fill="#cc0632"/>
<path d="M499.00,443.55H502.00L500.50,440.85Z" fill="#cc0632"/>
<path d="M493.90,445.25H496.90L495.40,442.55Z" fill="#cc0632"/>
<path d="M496.40,446.95H499.40L497.90,444.25Z" fill="#cc0632"/>
<path d="M499.00,447.85H502.00L500.50,445.15Z" fill="#cc0632"/>
<path d="M493.90,448.85H496.90L495.40,446.15Z" fill="#cc0632"/>
<path d="M497.30,436.55H500.30L498.80,433.85Z" fill="#cc0632"/>
<path d="M500.00,437.85H503.00L501.50,435.15Z" fill="#cc0632"/>
<line x1="498.50" y1="418.80" x2="498.50" y2="437.40" stroke="#222" stroke-width="1.0" />
<line x1="495.80" y1="418.50" x2="501.40" y2="418.50" stroke="#222" stroke-width="1.0" />
<line x1="495.80" y1="437.50" x2="501.40" y2="437.50" stroke="#222" stroke-width="1.0" />
<line x1="447.00" y1="466.60" x2="510.50" y2="466.60" stroke="#222" stroke-width="1.3" />
<line x1="462.40" y1="466.60" x2="462.40" y2="469.60" stroke="#2a2a2a" stroke-width="1.1" />
<line x1="480.30" y1="466.60" x2="480.30" y2="469.60" stroke="#2a2a2a" stroke-width="1.1" />
<line x1="498.40" y1="466.60" x2="498.40" y2="469.60" stroke="#2a2a2a" stroke-width="1.1" />
<line x1="463.80" y1="387.50" x2="499.50" y2="387.50" stroke="#333" stroke-width="1.0" />
<polygon points="475.75,380.55 476.27,381.79 477.60,381.90 476.58,382.77 476.90,384.08 475.75,383.38 474.60,384.08 474.92,382.77 473.90,381.90 475.23,381.79" fill="#111"/>
<polygon points="479.85,380.55 480.37,381.79 481.70,381.90 480.68,382.77 481.00,384.08 479.85,383.38 478.70,384.08 479.02,382.77 478.00,381.90 479.33,381.79" fill="#111"/>
<polygon points="483.95,380.55 484.47,381.79 485.80,381.90 484.78,382.77 485.10,384.08 483.95,383.38 482.80,384.08 483.12,382.77 482.10,381.90 483.43,381.79" fill="#111"/>
<polygon points="488.05,380.55 488.57,381.79 489.90,381.90 488.88,382.77 489.20,384.08 488.05,383.38 486.90,384.08 487.22,382.77 486.20,381.90 487.53,381.79" fill="#111"/>
<line x1="461.00" y1="434.50" x2="479.70" y2="434.50" stroke="#333" stroke-width="1.0" />
<polygon points="470.20,428.25 470.72,429.49 472.05,429.60 471.03,430.47 471.35,431.78 470.20,431.08 469.05,431.78 469.37,430.47 468.35,429.60 469.68,429.49" fill="#111"/>
<text x="462.40" y="478.00" font-size="8.0" text-anchor="middle" textLength="11.70" lengthAdjust="spacingAndGlyphs">UN</text>
<text x="480.30" y="478.00" font-size="8.0" text-anchor="middle" textLength="15.00" lengthAdjust="spacingAndGlyphs">BCR</text>
<text x="499.40" y="478.00" font-size="8.0" text-anchor="middle" textLength="20.10" lengthAdjust="spacingAndGlyphs">CD40</text>
</svg>
</body></html>
